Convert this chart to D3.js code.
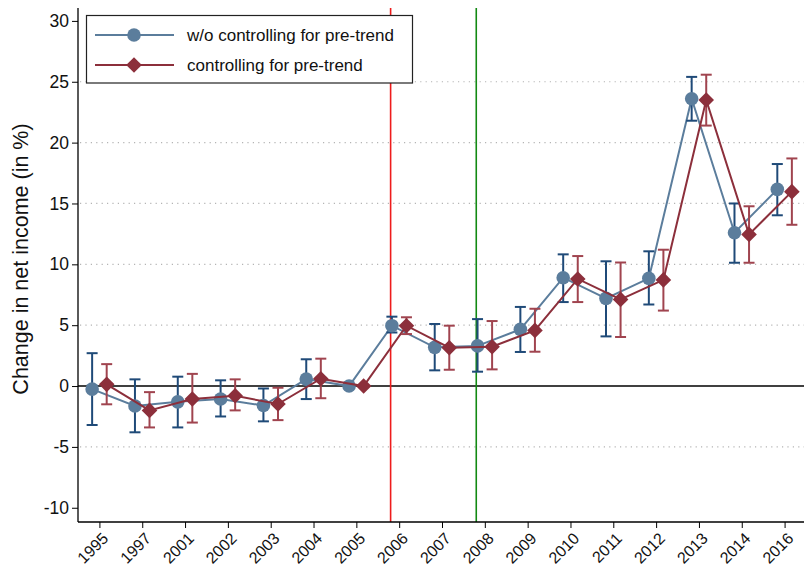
<!DOCTYPE html>
<html>
<head>
<meta charset="utf-8">
<script src="https://cdn.jsdelivr.net/npm/d3@7"></script>
<style>
  body { margin: 0; background: #fff; }
  svg { font-family: "Liberation Sans", Arial, sans-serif; }
</style>
</head>
<body>
<svg id="chart" width="804" height="566"></svg>
<script>
// categories and estimates
const years = ["1995", "1997", "2001", "2002", "2003", "2004", "2005", "2006", "2007", "2008",
  "2009", "2010", "2011", "2012", "2013", "2014", "2016"];

// w/o controlling for pre-trend
const est1 = [-0.25, -1.64, -1.3, -1.07, -1.6, 0.57, 0, 4.96, 3.18, 3.3, 4.66, 8.9, 7.2, 8.85, 23.6, 12.6, 16.16];
const lo1 = [-3.2, -3.8, -3.4, -2.5, -2.9, -1.07, 0, 4.4, 1.29, 1.18, 2.8, 6.9, 4.08, 6.7, 21.8, 10.13, 14.03];
const hi1 = [2.7, 0.55, 0.77, 0.47, -0.2, 2.2, 0, 5.7, 5.1, 5.5, 6.5, 10.82, 10.25, 11.07, 25.4, 15.0, 18.24];

// controlling for pre-trend
const est2 = [0.14, -2.0, -1.07, -0.8, -1.48, 0.6, 0, 4.96, 3.15, 3.23, 4.57, 8.8, 7.12, 8.72, 23.5, 12.46, 15.97];
const lo2 = [-1.5, -3.4, -3.0, -2.0, -2.8, -1.0, 0, 4.27, 1.34, 1.37, 2.82, 6.9, 4.03, 6.2, 21.4, 10.13, 13.25];
const hi2 = [1.8, -0.5, 1.0, 0.55, -0.14, 2.25, 0, 5.65, 4.96, 5.34, 6.35, 10.68, 10.15, 11.2, 25.58, 14.77, 18.7];

const yTicks = [-10, -5, 0, 5, 10, 15, 20, 25, 30];
const gridTicks = [-5, 5, 10, 15, 20, 25];
const eventLines = [{ pos: 6.8, color: "#ee1c1c" }, { pos: 8.8, color: "#138a13" }];
const seriesNames = ["w/o controlling for pre-trend", "controlling for pre-trend"];

const svg = d3.select("#chart");
const x = d3.scaleLinear().domain([-0.5, 16.5]).range([78, 806]);
const y = d3.scaleLinear().domain([-11.17, 31.06]).range([522, 8]);

const blue = "#5b7d9c", blueBar = "#1f4a78";
const red = "#8c2f3b", redBar = "#a0444f";

// grid
svg.append("g").selectAll("line").data(gridTicks).enter().append("line")
  .attr("x1", 80).attr("x2", 804)
  .attr("y1", d => y(d)).attr("y2", d => y(d))
  .attr("stroke", "#b4b4b4").attr("stroke-width", 1.2)
  .attr("stroke-dasharray", "1.2,4.2");

// zero line
svg.append("line").attr("x1", 78).attr("x2", 804)
  .attr("y1", y(0)).attr("y2", y(0))
  .attr("stroke", "#000").attr("stroke-width", 1.6);

// event lines
svg.append("g").selectAll("line").data(eventLines).enter().append("line")
  .attr("x1", d => x(d.pos)).attr("x2", d => x(d.pos))
  .attr("y1", 8).attr("y2", 522)
  .attr("stroke", d => d.color).attr("stroke-width", 1.6);

// axes
const yAxis = svg.append("g").attr("transform", "translate(78,0)")
  .call(d3.axisLeft(y).tickValues(yTicks).tickFormat(d => String(d)).tickSize(6).tickPadding(3));
yAxis.select(".domain").attr("d", "M0,8V522").attr("stroke-width", 1.3);
yAxis.selectAll("text").attr("font-size", 17.5).attr("fill", "#111");

const xAxis = svg.append("g").attr("transform", "translate(0,522)")
  .call(d3.axisBottom(x).tickValues(d3.range(years.length)).tickFormat(i => years[i]).tickSize(6));
xAxis.select(".domain").attr("d", "M78,0H804").attr("stroke-width", 1.3);
xAxis.selectAll("text").attr("font-size", 16).attr("fill", "#111")
  .attr("text-anchor", "end").attr("dy", 0)
  .attr("transform", "translate(3,11) rotate(-45)");

svg.append("text")
  .attr("transform", "translate(28,259) rotate(-90)")
  .attr("text-anchor", "middle").attr("font-size", 21.5).attr("fill", "#111")
  .text("Change in net income (in %)");

// series drawing
const off = 0.17;
function drawSeries(est, lo, hi, dx, col, barCol, shape) {
  const g = svg.append("g");
  const pts = est.map((v, i) => [x(i + dx), y(v)]);
  g.append("path").attr("d", d3.line()(pts))
    .attr("fill", "none").attr("stroke", col).attr("stroke-width", 2);
  const bars = g.selectAll(".bar").data(est.map((v, i) => i).filter(i => hi[i] !== lo[i]))
    .enter().append("g");
  bars.append("line")
    .attr("x1", i => x(i + dx)).attr("x2", i => x(i + dx))
    .attr("y1", i => y(lo[i])).attr("y2", i => y(hi[i]))
    .attr("stroke", barCol).attr("stroke-width", 2);
  [lo, hi].forEach(arr => {
    bars.append("line")
      .attr("x1", i => x(i + dx) - 5.5).attr("x2", i => x(i + dx) + 5.5)
      .attr("y1", i => y(arr[i])).attr("y2", i => y(arr[i]))
      .attr("stroke", barCol).attr("stroke-width", 2);
  });
  g.selectAll(".pt").data(pts).enter().append("path")
    .attr("transform", d => "translate(" + d[0] + "," + d[1] + ")")
    .attr("d", d3.symbol().type(shape === "circle" ? d3.symbolCircle : d3.symbolDiamond2).size(shape === "circle" ? 145 : 155))
    .attr("fill", col);
}
drawSeries(est1, lo1, hi1, -off, blue, blueBar, "circle");
drawSeries(est2, lo2, hi2, off, red, redBar, "diamond");

// legend
const lg = svg.append("g");
lg.append("rect").attr("x", 86.5).attr("y", 15.5).attr("width", 326).attr("height", 67.5)
  .attr("fill", "#fff").attr("stroke", "#222").attr("stroke-width", 1.2);
[[blue, "circle"], [red, "diamond"]].forEach((s, k) => {
  const ly = 35 + k * 30;
  lg.append("line").attr("x1", 95).attr("x2", 174).attr("y1", ly).attr("y2", ly)
    .attr("stroke", s[0]).attr("stroke-width", 2);
  lg.append("path").attr("transform", "translate(134," + ly + ")")
    .attr("d", d3.symbol().type(s[1] === "circle" ? d3.symbolCircle : d3.symbolDiamond2).size(s[1] === "circle" ? 145 : 155))
    .attr("fill", s[0]);
  lg.append("text").attr("x", 187).attr("y", ly + 6).attr("font-size", 17).attr("fill", "#111")
    .text(seriesNames[k]);
});
</script>
</body>
</html>
